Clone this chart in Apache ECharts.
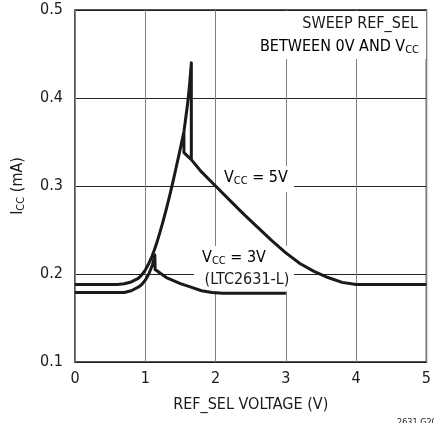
<!DOCTYPE html>
<html><head><meta charset="utf-8">
<script src="https://cdn.jsdelivr.net/npm/echarts@6/dist/echarts.min.js"></script>
<style>html,body{margin:0;padding:0;background:#fff}#c{width:434px;height:423px}</style>
</head><body><div id="c"></div>
<script>
// Tick values
const xTicks = [0, 1, 2, 3, 4, 5];
const yTicks = [0.1, 0.2, 0.3, 0.4, 0.5];

// VCC = 5V curve (includes the small hysteresis loop near 1.6V)
const v5X = [0, 0.6, 0.7, 0.8, 0.9, 0.95, 1.0, 1.05, 1.1, 1.15, 1.2, 1.25, 1.3, 1.35, 1.4, 1.45, 1.5, 1.55, 1.6, 1.63, 1.655,
             1.655, 1.55, 1.55, 1.55, 1.655,
             1.8, 2.0, 2.2, 2.4, 2.6, 2.8, 3.0, 3.2, 3.4, 3.6, 3.8, 4.0, 5.0];
const v5Y = [0.188, 0.188, 0.189, 0.191, 0.195, 0.199, 0.2045, 0.212, 0.221, 0.232, 0.245, 0.259, 0.274, 0.290, 0.307, 0.325, 0.343, 0.362, 0.392, 0.415, 0.440,
             0.330, 0.338, 0.362, 0.338, 0.330,
             0.316, 0.300, 0.284, 0.268, 0.253, 0.238, 0.224, 0.212, 0.203, 0.196, 0.1905, 0.188, 0.188];

// VCC = 3V (LTC2631-L) curve
const v3X = [0, 0.7, 0.8, 0.9, 0.95, 1.0, 1.05, 1.1, 1.136, 1.14, 1.16, 1.3, 1.5, 1.65, 1.8, 1.95, 2.1, 3.0];
const v3Y = [0.179, 0.179, 0.181, 0.185, 0.188, 0.193, 0.200, 0.210, 0.2215, 0.205, 0.2045, 0.196, 0.189, 0.185, 0.181, 0.179, 0.178, 0.178];

const FONT = "'Liberation Sans Narrow','DejaVu Sans Condensed','Liberation Sans',sans-serif";
const INK = '#1a1a1a';

const toPairs = (xs, ys) => xs.map((x, i) => [x, ys[i]]);

const chart = echarts.init(document.getElementById('c'), null, {renderer: 'canvas'});

const rich = {
  a: {fontFamily: FONT, fontSize: 16, color: INK, lineHeight: 18},
  s: {fontFamily: FONT, fontSize: 11, color: INK, lineHeight: 18, verticalAlign: 'bottom', padding: [6, 0, 0, 0]}
};

chart.setOption({
  backgroundColor: '#fff',
  animation: false,
  grid: {left: 75, right: 7, top: 10, bottom: 61, show: true, borderColor: INK, borderWidth: 1.5, containLabel: false},
  xAxis: {
    type: 'value', min: xTicks[0], max: xTicks[xTicks.length - 1], interval: 1,
    name: 'REF_SEL VOLTAGE (V)', nameLocation: 'middle', nameGap: 35,
    nameTextStyle: {fontFamily: FONT, fontSize: 16, color: INK},
    axisLine: {show: false}, axisTick: {show: false},
    axisLabel: {fontFamily: FONT, fontSize: 16, color: INK, margin: 9},
    splitLine: {show: true, lineStyle: {color: '#808080', width: 1}}
  },
  yAxis: {
    type: 'value', min: yTicks[0], max: yTicks[yTicks.length - 1], interval: 0.1,
    name: '{a|I}{s|CC}{a| (mA)}', nameLocation: 'middle', nameGap: 48,
    nameTextStyle: {rich: rich},
    axisLine: {show: false}, axisTick: {show: false},
    axisLabel: {fontFamily: FONT, fontSize: 16, color: INK, margin: 12, formatter: v => v.toFixed(1)},
    splitLine: {show: true, lineStyle: {color: '#222', width: 1}}
  },
  graphic: [
    {type: 'rect', z: 1, shape: {x: 248, y: 11, width: 178, height: 48}, style: {fill: '#fff'}},
    {type: 'text', z: 10, style: {text: 'SWEEP REF_SEL', x: 418, y: 24, align: 'right', verticalAlign: 'middle', font: '16px ' + FONT, fill: INK}},
    {type: 'text', z: 10, style: {text: '{a|BETWEEN 0V AND V}{s|CC}', x: 419, y: 47, align: 'right', verticalAlign: 'middle', rich: rich}},

    {type: 'rect', z: 1, shape: {x: 218, y: 166, width: 76, height: 26}, style: {fill: '#fff'}},
    {type: 'text', z: 10, style: {text: '{a|V}{s|CC}{a| = 5V}', x: 224, y: 178, align: 'left', verticalAlign: 'middle', rich: rich}},

    {type: 'rect', z: 1, shape: {x: 194, y: 246, width: 100, height: 45}, style: {fill: '#fff'}},
    {type: 'text', z: 10, style: {text: '{a|V}{s|CC}{a| = 3V}', x: 234, y: 258, align: 'center', verticalAlign: 'middle', rich: rich}},
    {type: 'text', z: 10, style: {text: '(LTC2631-L)', x: 247, y: 280, align: 'center', verticalAlign: 'middle', font: '16px ' + FONT, fill: INK}},

    {type: 'text', z: 10, style: {text: '2631 G20', x: 397, y: 418, align: 'left', verticalAlign: 'top', font: '9px ' + FONT, fill: INK}}
  ],
  series: [
    {type: 'line', name: 'VCC = 5V', data: toPairs(v5X, v5Y), showSymbol: false, smooth: false, z: 5,
     lineStyle: {color: INK, width: 3, join: 'round'}},
    {type: 'line', name: 'VCC = 3V', data: toPairs(v3X, v3Y), showSymbol: false, smooth: false, z: 5,
     lineStyle: {color: INK, width: 3, join: 'round'}}
  ]
});
</script>
</body></html>
